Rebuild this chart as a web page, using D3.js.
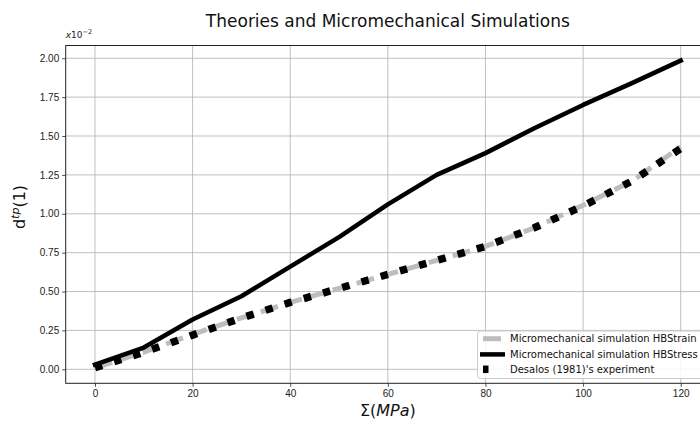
<!DOCTYPE html>
<meta charset="utf-8">
<head>
<style>
  body { margin: 0; background: #fff; }
  svg { font-family: 'DejaVu Sans', sans-serif; display: block; }
  .grid line { stroke: #b0b0b0; stroke-width: 0.8px; }
  .tick text { font-size: 10px; fill: #222; }
</style>
</head>
<body>
<svg width="700" height="421"></svg>
<script src="https://d3js.org/d3.v7.min.js"></script>
<script>

// values are in units of 1e-2
var stressX = [0, 10, 20, 30, 40, 50, 60, 70, 80, 90, 100, 110, 120];
var stressY = [0.03, 0.14, 0.32, 0.47, 0.66, 0.85, 1.06, 1.25, 1.39, 1.55, 1.70, 1.84, 1.985];

var strainX = [0, 10, 20, 30, 40, 50, 60, 70, 80, 90, 100, 110, 120];
var strainY = [0.01, 0.11, 0.225, 0.33, 0.43, 0.52, 0.61, 0.70, 0.79, 0.91, 1.055, 1.21, 1.43];

var expX = [0, 10, 20, 30, 40, 50, 60, 70, 80, 90, 100, 110, 120];
var expY = [0.01, 0.11, 0.22, 0.33, 0.43, 0.52, 0.61, 0.70, 0.79, 0.91, 1.05, 1.21, 1.42];

var xTicks = [0, 20, 40, 60, 80, 100, 120];
var yTicks = [0, 0.25, 0.5, 0.75, 1.0, 1.25, 1.5, 1.75, 2.0];

var legendNames = ["Micromechanical simulation HBStrain",
                   "Micromechanical simulation HBStress",
                   "Desalos (1981)'s experiment"];

const svg = d3.select('svg');
const mLeft = 65.7, mRight = 710, mTop = 45.5, mBottom = 383.3;

var x = d3.scaleLinear().domain([-6, 126]).range([mLeft, mRight]);
var y = d3.scaleLinear().domain([-0.09, 2.082]).range([mBottom, mTop]);

// grid
var grid = svg.append('g').attr('class', 'grid');
grid.selectAll('.gx').data(xTicks).enter().append('line')
  .attr('x1', d => x(d)).attr('x2', d => x(d))
  .attr('y1', mTop).attr('y2', mBottom);
grid.selectAll('.gy').data(yTicks).enter().append('line')
  .attr('x1', mLeft).attr('x2', mRight)
  .attr('y1', d => y(d)).attr('y2', d => y(d));

// axes
svg.append('g')
  .attr('transform', 'translate(0,' + mBottom + ')')
  .call(d3.axisBottom(x).tickValues(xTicks).tickSize(3.5).tickPadding(3).tickFormat(d3.format('d')))
  .call(g => g.select('.domain').remove());
svg.append('g')
  .attr('transform', 'translate(' + mLeft + ',0)')
  .call(d3.axisLeft(y).tickValues(yTicks).tickSize(3.5).tickPadding(3).tickFormat(d3.format('.2f')))
  .call(g => g.select('.domain').remove());

svg.selectAll('.tick line').attr('stroke', '#222').attr('stroke-width', 0.8);

// frame
svg.append('rect')
  .attr('x', mLeft).attr('y', mTop)
  .attr('width', mRight - mLeft).attr('height', mBottom - mTop)
  .attr('fill', 'none').attr('stroke', '#222').attr('stroke-width', 1);

// lines
var line = d3.line().x(d => x(d[0])).y(d => y(d[1]));

svg.append('path')
  .datum(d3.zip(strainX, strainY))
  .attr('d', line)
  .attr('fill', 'none')
  .attr('stroke', '#bdbdbd')
  .attr('stroke-width', 5)
  .attr('stroke-dasharray', '18,7');

svg.append('path')
  .datum(d3.zip(stressX, stressY))
  .attr('d', line)
  .attr('fill', 'none')
  .attr('stroke', '#000')
  .attr('stroke-width', 4.5)
  .attr('stroke-linecap', 'square')
  .attr('stroke-linejoin', 'round');

svg.append('path')
  .datum(d3.zip(expX, expY))
  .attr('d', line)
  .attr('fill', 'none')
  .attr('stroke', '#000')
  .attr('stroke-width', 7.5)
  .attr('stroke-dasharray', '7.5,12.5');

// title and labels
svg.append('text')
  .attr('x', (mLeft + mRight) / 2).attr('y', 27)
  .attr('text-anchor', 'middle')
  .attr('font-size', 17).attr('fill', '#111')
  .text('Theories and Micromechanical Simulations');

var xl = svg.append('text')
  .attr('x', (mLeft + mRight) / 2).attr('y', 416)
  .attr('text-anchor', 'middle')
  .attr('font-size', 16).attr('fill', '#111');
xl.append('tspan').text('Σ(');
xl.append('tspan').attr('font-style', 'italic').text('MPa');
xl.append('tspan').text(')');

var yl = svg.append('text')
  .attr('transform', 'translate(25,207) rotate(-90)')
  .attr('text-anchor', 'middle')
  .attr('font-size', 16).attr('fill', '#111');
yl.append('tspan').text('d');
yl.append('tspan').attr('font-size', 11).attr('font-style', 'italic').attr('dy', -6).text('tp');
yl.append('tspan').attr('dy', 6).text('(1)');

var off = svg.append('text')
  .attr('x', mLeft).attr('y', 38)
  .attr('font-size', 9).attr('fill', '#222');
off.append('tspan').attr('font-style', 'italic').text('x');
off.append('tspan').text('10');
off.append('tspan').attr('font-size', 6.5).attr('dy', -4).text('\u22122');

// legend
var lg = svg.append('g').attr('transform', 'translate(477.5,331)');
lg.append('rect')
  .attr('width', 230).attr('height', 47.5)
  .attr('rx', 3)
  .attr('fill', '#fff').attr('fill-opacity', 0.85)
  .attr('stroke', '#ccc');

var rowY = [7.7, 23.4, 38.3];
lg.append('line')
  .attr('x1', 5.5).attr('x2', 23.5).attr('y1', rowY[0]).attr('y2', rowY[0])
  .attr('stroke', '#bdbdbd').attr('stroke-width', 5);
lg.append('line')
  .attr('x1', 2.5).attr('x2', 27.5).attr('y1', rowY[1]).attr('y2', rowY[1])
  .attr('stroke', '#000').attr('stroke-width', 4.5);
lg.append('line')
  .attr('x1', 5.5).attr('x2', 11).attr('y1', rowY[2]).attr('y2', rowY[2])
  .attr('stroke', '#000').attr('stroke-width', 7.5);

lg.selectAll('.lt').data(legendNames).enter().append('text')
  .attr('x', 32.5).attr('y', (d, i) => rowY[i])
  .attr('dy', '0.35em')
  .attr('font-size', 10).attr('fill', '#111')
  .text(d => d);

</script>
</body>
